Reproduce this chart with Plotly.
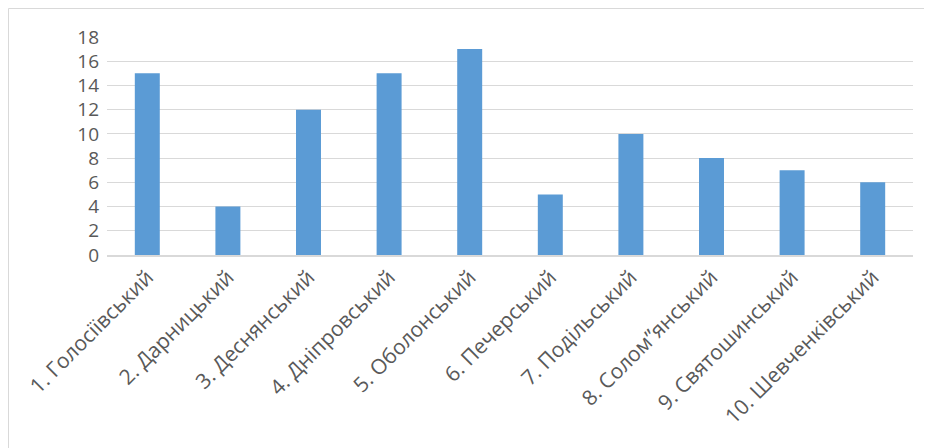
import plotly.graph_objects as go

categories = ["1. Голосіївський", "2. Дарницький", "3. Деснянський", "4. Дніпровський",
              "5. Оболонський", "6. Печерський", "7. Подільський", "8. Солом”янський",
              "9. Святошинський", "10. Шевченківський"]
values = [15, 4, 12, 15, 17, 5, 10, 8, 7, 6]
y_ticks = [0, 2, 4, 6, 8, 10, 12, 14, 16, 18]

fig = go.Figure(go.Bar(x=categories, y=values, marker=dict(color="#5B9BD5", line=dict(width=0))))

# page has 8px body margin; figure coordinates are screen coordinates minus 8
W, H = 932, 448
L, R, T, B = 99, 27, 29, 201
pw, ph = W - L - R, H - T - B

def px(x):
    return (x - L) / pw

def py(y):
    return (H - B - y) / ph

fig.add_shape(type="rect", xref="paper", yref="paper",
              x0=px(0.5), x1=px(W + 10), y0=py(H + 10), y1=py(0.5),
              line=dict(color="#D9D9D9", width=1), fillcolor="rgba(0,0,0,0)", layer="below")

fig.update_layout(
    width=W, height=H,
    margin=dict(l=L, r=R, t=T, b=B, pad=0, autoexpand=False),
    paper_bgcolor="white", plot_bgcolor="white",
    bargap=0.69,
    showlegend=False,
    font=dict(family="Open Sans, sans-serif", color="#595959", size=18),
    xaxis=dict(tickangle=-45, showgrid=False, showline=True, linecolor="#D9D9D9", linewidth=1.5,
               ticks="", automargin=False, tickfont=dict(size=21, color="#595959")),
    yaxis=dict(range=[0, 18], tickvals=y_ticks, showgrid=True, gridcolor="#D9D9D9", gridwidth=1,
               zeroline=False, showline=False, ticks="", ticklen=0, automargin=False,
               tickfont=dict(size=19, color="#595959"), ticklabelstandoff=7),
)

fig.write_html("out.html")
